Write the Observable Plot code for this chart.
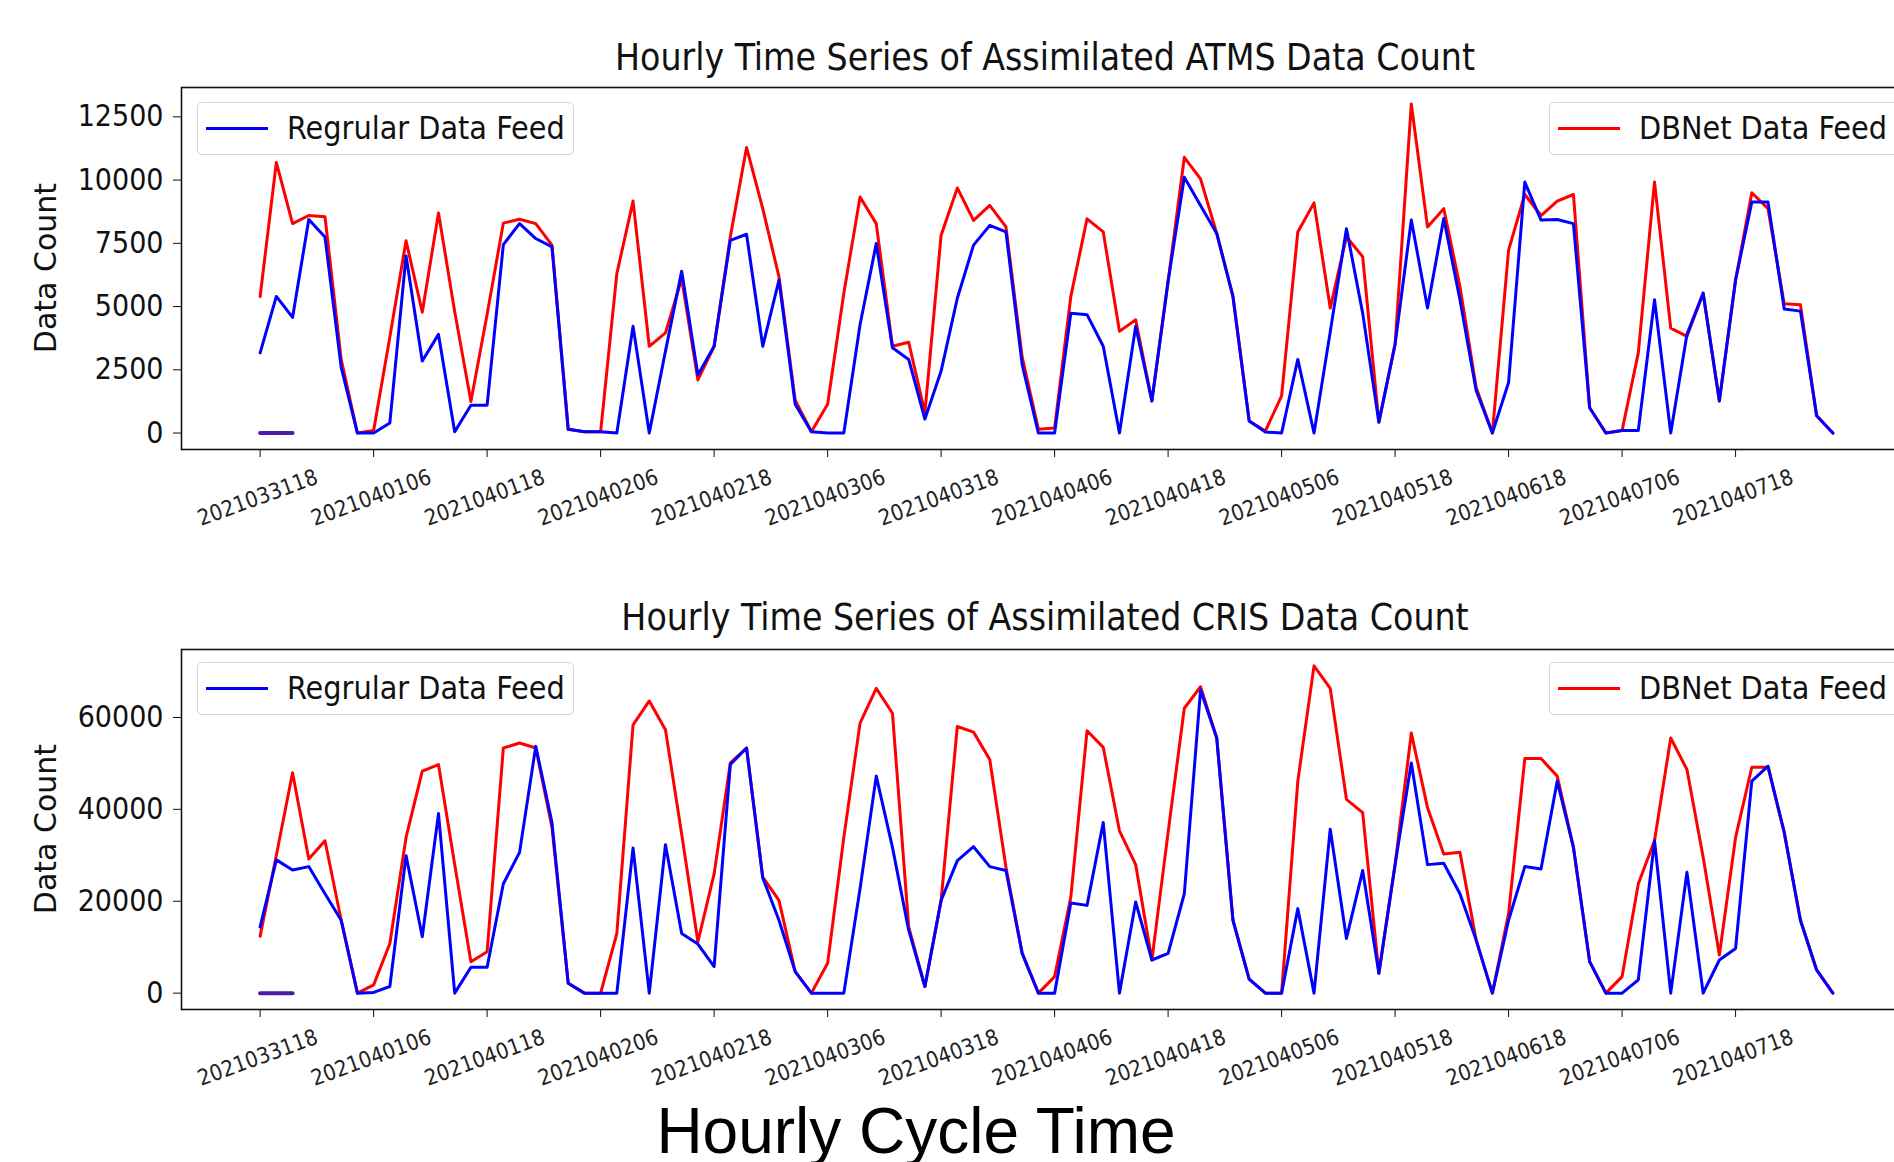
<!DOCTYPE html>
<html>
<head>
<meta charset="utf-8">
<script src="https://cdn.jsdelivr.net/npm/d3@7"></script>
<script src="https://cdn.jsdelivr.net/npm/@observablehq/plot@0.6"></script>
<style>
  html, body { margin: 0; padding: 0; background: white; }
  body { width: 1894px; height: 1162px; overflow: hidden; position: relative; }
  #wrap { position: absolute; left: 0; top: 0; width: 1894px; height: 1162px; overflow: hidden; }
  .panel { position: absolute; left: 0; max-width: none !important; }
  .ttl { position: absolute; white-space: nowrap; font-family: "DejaVu Sans Condensed", "DejaVu Sans", sans-serif; font-size: 37px; color: #111; transform: translate(-50%, -50%); }
  .ylab { position: absolute; white-space: nowrap; font-family: "DejaVu Sans", sans-serif; font-size: 30px; color: #111; transform: translate(-50%, -50%) rotate(-90deg); }
  .legend { position: absolute; height: 53px; box-sizing: border-box; border: 1.5px solid #d4d4d4; border-radius: 5px; background: rgba(255,255,255,0.85); z-index: 5; }
  .legend .ln { position: absolute; left: 8px; top: 24px; width: 62px; height: 3px; }
  .legend .tx { position: absolute; left: 89px; top: 50%; transform: translateY(-52%); white-space: nowrap; font-family: "DejaVu Sans Condensed", "DejaVu Sans", sans-serif; font-size: 32px; color: #111; }
  #xlab { position: absolute; left: 916px; top: 1131px; transform: translate(-50%, -50%); white-space: nowrap; font-family: "Liberation Sans", Arial, sans-serif; font-size: 64px; color: #000; }
</style>
</head>
<body>
<div id="wrap"></div>
<script>
// ---- data ----
const tickIndex  = [0, 7, 14, 21, 28, 35, 42, 49, 56, 63, 70, 77, 84, 91];
const tickLabels = ["2021033118","2021040106","2021040118","2021040206","2021040218","2021040306","2021040318",
                    "2021040406","2021040418","2021040506","2021040518","2021040618","2021040706","2021040718"];

const atmsDBNet = [5400,10700,8280,8600,8550,2900,0,100,3800,7600,4780,8700,4800,1250,4700,8300,8450,8280,7430,150,
  50,50,6300,9170,3430,3960,6100,2100,3430,7760,11290,8870,6180,1300,50,1140,5530,9330,8280,3430,
  3590,800,7820,9690,8410,9000,8150,3000,150,200,5400,8470,7950,4020,4480,1270,6000,10900,10050,7890,
  5400,480,80,1470,7950,9100,4940,7760,6970,430,3510,13010,8150,8870,5790,1800,0,7230,9430,8600,
  9170,9430,1000,0,100,3170,9920,4150,3820,5530,1270,6050,9500,8870,5110,5070,680,0];
const atmsRegular = [3170,5400,4570,8440,7750,2600,0,0,400,7000,2850,3900,50,1100,1100,7450,8280,7690,7360,150,
  50,50,0,4220,0,3240,6400,2300,3430,7620,7860,3430,6050,1140,50,0,0,4280,7490,3370,
  2910,550,2450,5330,7430,8210,7950,2700,0,0,4740,4680,3430,0,4220,1270,6000,10110,9000,7890,
  5400,480,40,0,2910,0,4000,8080,4740,430,3510,8420,4940,8480,5270,1680,0,2000,9920,8420,
  8440,8280,1000,0,100,100,5270,0,3900,5530,1270,6050,9130,9130,4900,4820,680,0];

const crisDBNet = [12400,30000,47950,29200,33170,15860,0,1800,10800,33890,48300,49750,28000,6850,9010,53350,54440,53350,36050,2160,
  0,0,12980,58400,63590,57320,34600,11180,25960,50110,53350,25240,20190,4690,0,6490,33890,58760,66330,60920,
  14420,1440,20190,58040,56810,50830,27400,8650,0,3600,20910,57100,53500,35330,27970,7210,35000,62010,66690,55520,
  15860,3030,0,0,46140,71230,66330,42180,39290,4330,28000,56600,40370,30280,30640,11540,0,17300,51050,51050,
  47230,31720,6850,0,3600,23790,33170,55520,48670,29560,8290,33890,49170,49170,34970,15860,5050,0];
const crisRegular = [14400,29000,26820,27540,21630,15860,0,150,1440,29920,12260,39080,0,5620,5620,23800,30640,53710,37130,2160,
  0,0,0,31580,0,32300,12980,10670,5770,49750,53350,25090,15860,4690,0,0,0,22710,47230,31720,
  13700,1440,20190,28840,31870,27540,26680,8650,0,0,19610,19100,37130,0,19830,7210,8650,21630,65970,55520,
  15860,3030,0,0,18390,0,35690,11900,26680,4330,28000,50110,27970,28260,21630,11540,0,15860,27540,27040,
  46140,31720,6850,0,0,2880,33170,0,26320,0,7210,9730,46140,49390,34970,15860,5050,0];

const flatIdx = [0, 1, 2];
const flatVal = [0, 0, 0];

const yTicksATMS = [0, 2500, 5000, 7500, 10000, 12500];
const yTicksCRIS = [0, 20000, 40000, 60000];

// ---- drawing ----
const wrap = document.getElementById("wrap");
const fmt = d3.format("d");

function padDomain(lo, hi) { const r = hi - lo; return [lo - 0.05 * r, hi + 0.05 * r]; }

function panel(dbnet, regular, yTicks, top, marginTop, plotH) {
  const n = dbnet.length;
  const rows = dbnet.map((v, i) => ({i, red: v, blue: regular[i]}));
  const flat = flatIdx.map((v, k) => ({i: v, y: flatVal[k]}));
  const all = dbnet.concat(regular);
  const W = 1930;
  const H = marginTop + plotH + 100;
  const chart = Plot.plot({
    width: W,
    height: H,
    marginLeft: 181,
    marginRight: W - 1911,
    marginTop: marginTop,
    marginBottom: 100,
    style: {background: "transparent", color: "#111", fontFamily: "'DejaVu Sans Condensed', 'DejaVu Sans', sans-serif", overflow: "visible", maxWidth: "none"},
    x: {domain: padDomain(0, n - 1), axis: null},
    y: {domain: padDomain(d3.min(all), d3.max(all)), axis: null},
    marks: [
      Plot.line(flat, {x: "i", y: "y", stroke: "#4a1ca8", strokeWidth: 4}),
      Plot.line(rows, {x: "i", y: "red", stroke: "#ff0000", strokeWidth: 3}),
      Plot.line(rows, {x: "i", y: "blue", stroke: "#0000ff", strokeWidth: 3}),
      Plot.axisY({ticks: yTicks, tickSize: 8, tickPadding: 10, tickFormat: fmt, fontSize: 30, label: null, stroke: "#111"}),
      Plot.axisX({ticks: tickIndex, tickSize: 8, tickFormat: () => "", label: null, stroke: "#111"}),
      Plot.text(tickIndex, {x: d => d, text: (d, k) => tickLabels[k], frameAnchor: "bottom", dy: 55, rotate: -20, fontSize: 22, fill: "#222"}),
      Plot.frame({stroke: "#111", strokeWidth: 1.6})
    ]
  });
  chart.classList.add("panel");
  chart.style.top = top + "px";
  chart.style.maxWidth = "none";
  chart.style.width = W + "px";
  chart.style.height = H + "px";
  wrap.appendChild(chart);
}

panel(atmsDBNet, atmsRegular, yTicksATMS, 0, 87, 362);
panel(crisDBNet, crisRegular, yTicksCRIS, 560, 89, 360);

function addDiv(cls, text, x, y) {
  const d = document.createElement("div");
  d.className = cls; d.textContent = text;
  d.style.left = x + "px"; d.style.top = y + "px";
  wrap.appendChild(d);
  return d;
}
addDiv("ttl", "Hourly Time Series of Assimilated ATMS Data Count", 1045, 57);
addDiv("ttl", "Hourly Time Series of Assimilated CRIS Data Count", 1045, 617);
addDiv("ylab", "Data Count", 45, 268);
addDiv("ylab", "Data Count", 45, 829);

function legend(label, color, left, top, width) {
  const box = document.createElement("div");
  box.className = "legend";
  box.style.left = left + "px"; box.style.top = top + "px"; box.style.width = width + "px";
  const ln = document.createElement("div");
  ln.className = "ln"; ln.style.background = color;
  const tx = document.createElement("div");
  tx.className = "tx"; tx.textContent = label;
  box.appendChild(ln); box.appendChild(tx);
  wrap.appendChild(box);
}
legend("Regrular Data Feed", "#0000ff", 197, 102, 377);
legend("DBNet Data Feed", "#ff0000", 1549, 102, 420);
legend("Regrular Data Feed", "#0000ff", 197, 662, 377);
legend("DBNet Data Feed", "#ff0000", 1549, 662, 420);

const xl = document.createElement("div");
xl.id = "xlab"; xl.textContent = "Hourly Cycle Time";
wrap.appendChild(xl);
</script>
</body>
</html>
